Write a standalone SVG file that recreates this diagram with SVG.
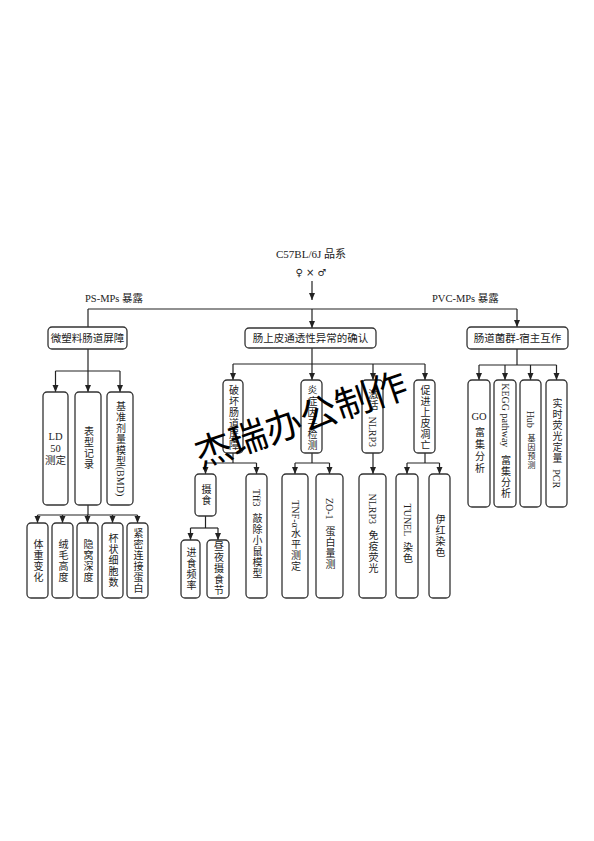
<svg xmlns="http://www.w3.org/2000/svg" width="594" height="841" viewBox="0 0 594 841">
<style>
text{font-family:"Liberation Serif","Noto Sans CJK SC",serif;fill:#222;font-size:10.5px}
.h{text-anchor:middle}
.v{writing-mode:vertical-rl;text-anchor:middle;dominant-baseline:central;letter-spacing:1px;font-size:10px}
.l{letter-spacing:0}
.b{fill:#fff;stroke:#333;stroke-width:1.3}
.c line,.c path{stroke:#222;stroke-width:1.2;fill:none}
.a{marker-end:url(#ah)}
.wm{font-family:"Noto Sans CJK SC",sans-serif;font-size:37px;fill:#000;text-anchor:middle;dominant-baseline:central}
</style>
<defs>
<marker id="ah" markerWidth="8" markerHeight="8" refX="7" refY="4" orient="auto" markerUnits="userSpaceOnUse"><path d="M0,1 L7,4 L0,7 z" fill="#222"/></marker>
</defs>
<rect width="594" height="841" fill="#fff"/>

<g id="title">
<text class="h" x="311" y="258" style="font-size:11px">C57BL/6J 品系</text>
<text class="h" x="311" y="276" style="font-family:'DejaVu Sans',sans-serif;font-size:10px">♀ × ♂</text>
</g>
<g id="labels">
<text x="85" y="302">PS-MPs 暴露</text>
<text x="432" y="302">PVC-MPs 暴露</text>
</g>

<g class="c" id="connectors">
<line class="a" x1="312" y1="281" x2="312" y2="300"/>
<line x1="88" y1="309" x2="517" y2="309"/>
<line x1="88" y1="309" x2="88" y2="327"/>
<line class="a" x1="312" y1="309" x2="312" y2="328"/>
<line class="a" x1="517" y1="309" x2="517" y2="327"/>
<!-- left -->
<line x1="88" y1="349" x2="88" y2="371"/>
<line x1="55.5" y1="371" x2="120" y2="371"/>
<line class="a" x1="55.5" y1="371" x2="55.5" y2="392"/>
<line class="a" x1="88" y1="371" x2="88" y2="392"/>
<line class="a" x1="120" y1="371" x2="120" y2="392"/>
<line x1="88" y1="505" x2="88" y2="515"/>
<line x1="37.5" y1="515" x2="137.5" y2="515"/>
<line class="a" x1="37.5" y1="515" x2="37.5" y2="523"/>
<line class="a" x1="62.5" y1="515" x2="62.5" y2="523"/>
<line class="a" x1="87.5" y1="515" x2="87.5" y2="523"/>
<line class="a" x1="112.5" y1="515" x2="112.5" y2="523"/>
<line class="a" x1="137.5" y1="515" x2="137.5" y2="523"/>
<!-- middle -->
<line x1="312" y1="348" x2="312" y2="364"/>
<line x1="233" y1="364" x2="425" y2="364"/>
<line class="a" x1="233" y1="364" x2="233" y2="380"/>
<line class="a" x1="312" y1="364" x2="312" y2="380"/>
<line class="a" x1="373" y1="364" x2="373" y2="380"/>
<line class="a" x1="425" y1="364" x2="425" y2="380"/>
<line x1="233" y1="453" x2="233" y2="463"/>
<line x1="205.5" y1="463" x2="256.5" y2="463"/>
<line class="a" x1="205.5" y1="463" x2="205.5" y2="474"/>
<line class="a" x1="256.5" y1="463" x2="256.5" y2="474"/>
<line x1="205.5" y1="516" x2="205.5" y2="528"/>
<line x1="190.5" y1="528" x2="218" y2="528"/>
<line class="a" x1="190.5" y1="528" x2="190.5" y2="540"/>
<line class="a" x1="218" y1="528" x2="218" y2="540"/>
<line x1="312" y1="453" x2="312" y2="463"/>
<line x1="295" y1="463" x2="329.5" y2="463"/>
<line class="a" x1="295" y1="463" x2="295" y2="474"/>
<line class="a" x1="329.5" y1="463" x2="329.5" y2="474"/>
<line class="a" x1="373" y1="453" x2="373" y2="474"/>
<line x1="425" y1="453" x2="425" y2="463"/>
<line x1="407" y1="463" x2="439.5" y2="463"/>
<line class="a" x1="407" y1="463" x2="407" y2="474"/>
<line class="a" x1="439.5" y1="463" x2="439.5" y2="474"/>
<!-- right -->
<line x1="517" y1="349" x2="517" y2="365"/>
<line x1="479" y1="365" x2="556.5" y2="365"/>
<line class="a" x1="479" y1="365" x2="479" y2="380"/>
<line class="a" x1="505" y1="365" x2="505" y2="380"/>
<line class="a" x1="530.5" y1="365" x2="530.5" y2="380"/>
<line class="a" x1="556.5" y1="365" x2="556.5" y2="380"/>
</g>

<g id="n-barrier"><rect class="b" x="48" y="327" width="79" height="22" rx="4"/><text class="h" x="87.5" y="342">微塑料肠道屏障</text></g>
<g id="n-permeability"><rect class="b" x="245" y="328" width="131" height="20" rx="4"/><text class="h" x="310.5" y="342">肠上皮通透性异常的确认</text></g>
<g id="n-microbiota"><rect class="b" x="467" y="327" width="101" height="22" rx="4"/><text class="h" x="517.5" y="342">肠道菌群-宿主互作</text></g>

<g id="n-ld50"><rect class="b" x="43" y="392" width="25" height="113" rx="4"/><text class="h" x="55.5"><tspan x="55.5" y="440">LD</tspan><tspan x="55.5" y="452">50</tspan><tspan x="55.5" y="464">测定</tspan></text></g>
<g id="n-phenotype"><rect class="b" x="75" y="392" width="26" height="113" rx="4"/><text class="v" x="88" y="448.5">表型记录</text></g>
<g id="n-bmd"><rect class="b" x="107" y="392" width="26" height="113" rx="4"/><text class="v" x="120" y="448.5">基准剂量模型<tspan class="l">(BMD)</tspan></text></g>

<g id="n-weight"><rect class="b" x="27" y="523" width="21" height="75" rx="4"/><text class="v" x="37.5" y="561">体重变化</text></g>
<g id="n-villus"><rect class="b" x="52" y="523" width="21" height="75" rx="4"/><text class="v" x="62.5" y="561">绒毛高度</text></g>
<g id="n-crypt"><rect class="b" x="77" y="523" width="21" height="75" rx="4"/><text class="v" x="87.5" y="561">隐窝深度</text></g>
<g id="n-goblet"><rect class="b" x="102" y="523" width="21" height="75" rx="4"/><text class="v" x="112.5" y="561">杯状细胞数</text></g>
<g id="n-tight"><rect class="b" x="127" y="523" width="21" height="75" rx="4"/><text class="v" x="137.5" y="561">紧密连接蛋白</text></g>

<g id="n-destroy"><rect class="b" x="223" y="380" width="20" height="73" rx="4"/><text class="v" x="233" y="418">破坏肠道屏障</text></g>
<g id="n-inflam"><rect class="b" x="301" y="380" width="21" height="73" rx="4"/><text class="v" x="311.5" y="418">炎症因子检测</text></g>
<g id="n-nlrp3"><rect class="b" x="362" y="380" width="21" height="73" rx="4"/><text class="v" x="372.5" y="418">激活<tspan class="l" dy="3"> NLRP3</tspan></text></g>
<g id="n-apoptosis"><rect class="b" x="414" y="380" width="21" height="73" rx="4"/><text class="v" x="424.5" y="418">促进上皮凋亡</text></g>

<g id="n-feeding"><rect class="b" x="195" y="474" width="21" height="42" rx="4"/><text class="v" x="205.5" y="495">摄食</text></g>
<g id="n-freq"><rect class="b" x="181" y="540" width="19" height="58" rx="4"/><text class="v" x="190.5" y="569">进食频率</text></g>
<g id="n-rhythm"><rect class="b" x="207" y="540" width="22" height="58" rx="4"/><text class="v" x="218" y="569">昼夜摄食节</text></g>
<g id="n-tff3"><rect class="b" x="246" y="474" width="21" height="124" rx="4"/><text class="v" x="256.5" y="534"><tspan class="l">Tff3 </tspan><tspan dy="4">敲除小鼠模型</tspan></text></g>
<g id="n-tnf"><rect class="b" x="282" y="474" width="26" height="124" rx="4"/><text class="v" x="295" y="536"><tspan class="l">TNF-α</tspan>水平测定</text></g>
<g id="n-zo1"><rect class="b" x="316" y="474" width="27" height="124" rx="4"/><text class="v" x="329.5" y="534"><tspan class="l">ZO-1 </tspan><tspan dy="4">蛋白量测</tspan></text></g>
<g id="n-nlrp3if"><rect class="b" x="359" y="474" width="27" height="124" rx="4"/><text class="v" x="372.5" y="534"><tspan class="l">NLRP3 </tspan><tspan dy="4">免疫荧光</tspan></text></g>
<g id="n-tunel"><rect class="b" x="396" y="474" width="22" height="124" rx="4"/><text class="v" x="407" y="534"><tspan class="l">TUNEL </tspan><tspan dy="4">染色</tspan></text></g>
<g id="n-he"><rect class="b" x="429" y="474" width="21" height="124" rx="4"/><text class="v" x="439.5" y="536">伊红染色</text></g>

<g id="n-go"><rect class="b" x="468" y="380" width="22" height="127" rx="4"/><text class="h" x="479" y="420">GO</text><text class="v" x="479" y="451" style="letter-spacing:2px">富集分析</text></g>
<g id="n-kegg"><rect class="b" x="494" y="380" width="22" height="127" rx="4"/><text class="v" x="505" y="441"><tspan class="l">KEGG pathway </tspan><tspan dy="5">富集分析</tspan></text></g>
<g id="n-hub"><rect class="b" x="520" y="380" width="21" height="127" rx="4"/><text class="v" x="530.5" y="440"><tspan class="l">Hub </tspan><tspan dy="3" style="font-size:8px">基因预测</tspan></text></g>
<g id="n-pcr"><rect class="b" x="546" y="380" width="21" height="127" rx="4"/><text class="v" x="556.5" y="443">实时荧光定量<tspan class="l" dy="3"> PCR</tspan></text></g>

<g id="watermark"><text class="wm" x="300" y="417" transform="rotate(-19 300 417)">杰瑞办公制作</text></g>
</svg>
